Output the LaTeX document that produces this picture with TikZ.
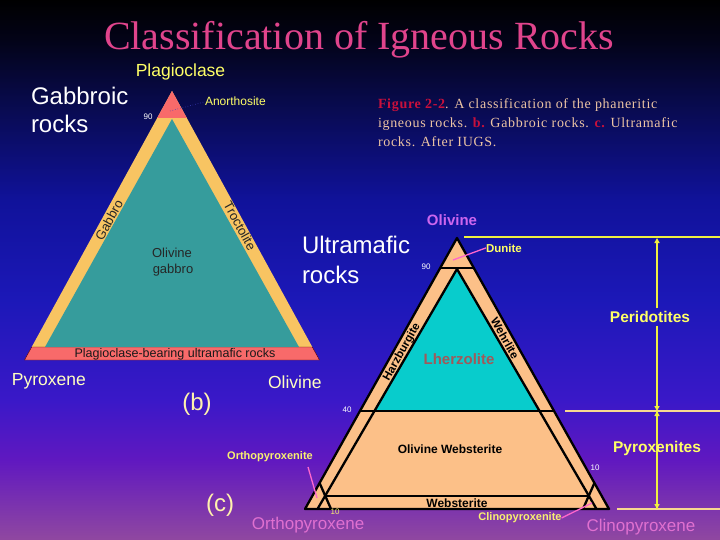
\documentclass[tikz,border=0pt]{standalone}
\usepackage{fontspec}
\setmainfont{Liberation Sans}
\newfontfamily\titlefont{Liberation Serif}
\newfontfamily\capfont[LetterSpace=5]{Liberation Serif}
\usetikzlibrary{arrows.meta}
\definecolor{bgA}{HTML}{000000}
\definecolor{bgB}{HTML}{030318}
\definecolor{bgC}{HTML}{080A4A}
\definecolor{bgD}{HTML}{10129A}
\definecolor{bgE}{HTML}{1C18B8}
\definecolor{bgF}{HTML}{3A18C8}
\definecolor{bgG}{HTML}{6018C0}
\definecolor{bgH}{HTML}{9048A0}
\definecolor{titlepink}{HTML}{E0448C}
\definecolor{captext}{HTML}{ECC4A4}
\definecolor{figred}{HTML}{C8103C}
\definecolor{plagyel}{HTML}{FFFF66}
\definecolor{cream}{HTML}{FFFFC0}
\definecolor{violetlbl}{HTML}{CC66EE}
\definecolor{pinklbl}{HTML}{E070D0}
\definecolor{pinkline}{HTML}{FF66CC}
\definecolor{lblyel}{HTML}{F8F070}
\definecolor{arrowyel}{HTML}{F0F040}
\definecolor{paleyel}{HTML}{F8D890}
\definecolor{lorange}{HTML}{F8C462}
\definecolor{lteal}{HTML}{369C9C}
\definecolor{lred}{HTML}{F86A6A}
\definecolor{rorange}{HTML}{FCC088}
\definecolor{rteal}{HTML}{08CCCC}
\definecolor{lherz}{HTML}{A05A5A}
\pgfdeclareverticalshading{bgshade}{100bp}{color(0bp)=(bgH); color(25bp)=(bgH); color(32.41bp)=(bgG); color(37.96bp)=(bgF); color(47.22bp)=(bgE); color(56.48bp)=(bgD); color(65.74bp)=(bgC); color(71.30bp)=(bgB); color(75bp)=(bgA); color(100bp)=(bgA)}
\newcommand\fsz[1]{\fontsize{#1}{#1}\selectfont}
\begin{document}
\begin{tikzpicture}[x=1pt,y=-1pt,
  lbl/.style={inner sep=0pt, outer sep=0pt},
  bline/.style={black, line width=2.3pt, line cap=round, line join=round},
  leader/.style={pinkline, line width=1.3pt},
  yarrow/.style={arrowyel, line width=1.4pt},
  tipA/.style={-{Triangle[length=5pt,width=5pt]}},
  hline/.style={paleyel, line width=1.6pt}]
\useasboundingbox (0,0) rectangle (720,540);
\shade[shading=bgshade] (0,0) rectangle (720,540);

% title
\node[lbl, anchor=base, text=titlepink] (title) at (359,50) {\titlefont\fsz{40}Classification of Igneous Rocks};

% caption
\node[lbl, anchor=base west, text=captext] (cap1) at (378,109) {\capfont\fsz{14}{\color{figred}\bfseries Figure 2-2}. A classification of the phaneritic};
\node[lbl, anchor=base west, text=captext] (cap2) at (378,128) {\capfont\fsz{14}igneous rocks. {\color{figred}\bfseries b.} Gabbroic rocks. {\color{figred}\bfseries c.} Ultramafic};
\node[lbl, anchor=base west, text=captext] (cap3) at (378,147) {\capfont\fsz{14}rocks. After IUGS.};

% ---------- left triangle (b) ----------
\fill[lorange] (172,91) -- (31.7,347) -- (312.3,347) -- cycle;
\fill[lred] (172,91) -- (157.2,118) -- (186.8,118) -- cycle;
\fill[lred, draw=red!35!black, line width=0.4pt] (31.7,347) -- (312.3,347) -- (319.5,360) -- (24.5,360) -- cycle;
\fill[lteal] (172,119) -- (45,347) -- (299,347) -- cycle;
\coordinate (anoA) at (170,111);
\node[lbl, anchor=base west, text=plagyel] (anorth) at (205,106) {\fsz{12}Anorthosite};
\draw[blue!50!gray, line width=0.6pt, dotted] (anoA) -- (anorth.west);
\node[lbl, anchor=base, text=plagyel] (plag) at (180.5,77) {\fsz{17.5}Plagioclase};
\node[lbl, text=white] (n90b) at (148,117) {\fsz{8}90};
\node[lbl, anchor=base west, text=white] (gab1) at (31,105) {\fsz{24}Gabbroic};
\node[lbl, anchor=base west, text=white] (gab2) at (31,133) {\fsz{24}rocks};
\node[lbl, rotate=61.3, text=black!85] (gabbro) at (109,220) {\fsz{13}Gabbro};
\node[lbl, rotate=-61.3, text=black!85] (troct) at (240,226) {\fsz{13}Troctolite};
\node[lbl, anchor=base, text=black!85] (olg1) at (172,257) {\fsz{13}Olivine};
\node[lbl, anchor=base, text=black!85] (olg2) at (173,273) {\fsz{13}gabbro};
\node[lbl, text=black!90] (pbur) at (175,354) {\fsz{12.5}Plagioclase-bearing ultramafic rocks};
\node[lbl, anchor=base west, text=cream] (pyx) at (12,385) {\fsz{17.5}Pyroxene};
\node[lbl, anchor=base west, text=cream] (olb) at (268,388) {\fsz{17.5}Olivine};
\node[lbl, text=cream!90!orange] (blab) at (197,404) {\fsz{24}(b)};

% ---------- right triangle (c) ----------
\fill[rorange] (457,238) -- (305,509) -- (609,509) -- cycle;
\fill[rteal] (457,269) -- (375,411) -- (539,411) -- cycle;
\draw[bline] (440.2,268) -- (473.8,268);
\draw[bline] (457,269) -- (317.5,509);
\draw[bline] (457,269) -- (596.5,509);
\draw[bline] (360,411) -- (554,411);
\draw[bline] (325,496) -- (589,496);
\draw[bline] (319.6,483) -- (331,509);
\draw[bline] (594.4,483) -- (583,509);
\draw[bline] (457,238) -- (305,509) -- (609,509) -- cycle;

\node[lbl, text=violetlbl] (olc) at (452,220) {\fsz{15}\bfseries Olivine};
\node[lbl, anchor=base west, text=white] (ult1) at (302,254) {\fsz{24}Ultramafic};
\node[lbl, anchor=base west, text=white] (ult2) at (302,283) {\fsz{24}rocks};
\node[lbl, anchor=base west, text=plagyel] (dunite) at (486,252) {\fsz{11.5}\bfseries Dunite};
\coordinate (dunA) at (453,260);
\draw[leader] (dunA) -- (dunite.west);
\node[lbl, text=white] (n90c) at (426,267) {\fsz{8}90};
\node[lbl, text=white] (n40) at (347,410) {\fsz{8}40};
\node[lbl, text=lblyel] (n10a) at (335,512) {\fsz{8}10};
\node[lbl, text=white] (n10b) at (595,468) {\fsz{8}10};
\node[lbl, rotate=60.7] (harz) at (402,352) {\fsz{11.5}\bfseries Harzburgite};
\node[lbl, rotate=-60.7] (wehr) at (505,338) {\fsz{11.5}\bfseries Wehrlite};
\node[lbl, text=lherz] (lherzl) at (459,359) {\fsz{15}\bfseries Lherzolite};
\node[lbl, text=black] (olweb) at (450,449) {\fsz{12}\bfseries Olivine Websterite};
\node[lbl, anchor=base, text=black] (webst) at (457,507) {\fsz{12}\bfseries Websterite};
\node[lbl, text=lblyel] (opxite) at (270,457) {\fsz{11}\bfseries Orthopyroxenite};
\coordinate (opxA) at (308,467);
\coordinate (opxB) at (317,498);
\draw[leader] (opxA) -- (opxB);
\node[lbl, text=lblyel] (cpxite) at (520,518) {\fsz{11}\bfseries Clinopyroxenite};
\coordinate (cpxB) at (592,503);
\draw[leader] (cpxite.east) -- (cpxB);
\node[lbl, text=pinklbl] (opx) at (308,525) {\fsz{17}Orthopyroxene};
\node[lbl, text=pinklbl] (cpx) at (641,527) {\fsz{17}Clinopyroxene};
\node[lbl, text=cream!90!orange] (clab) at (220,505) {\fsz{24}(c)};

% ---------- right scale ----------
\coordinate (hTopL) at (464,237);
\coordinate (hTopR) at (720,237);
\coordinate (hMidL) at (565,411);
\coordinate (hMidR) at (720,411);
\coordinate (hBotL) at (617,509);
\coordinate (hBotR) at (720,509);
\coordinate (pTop) at (657,238);
\coordinate (pMid) at (657,411);
\coordinate (pBot) at (657,509);
\draw[arrowyel, line width=1.6pt] (hTopL) -- (hTopR);
\draw[hline] (hMidL) -- (hMidR);
\draw[hline] (hBotL) -- (hBotR);
\node[lbl, text=plagyel] (peri) at (650,317) {\fsz{15.5}\bfseries Peridotites};
\draw[yarrow, tipA] (pTop |- peri.north) ++(0,-3) -- (pTop);
\draw[yarrow, tipA] (pTop |- peri.south) ++(0,3) -- (pMid);
\draw[yarrow, tipA] (pBot) -- (pMid);
\draw[yarrow, tipA] (pMid) -- (pBot);
\node[lbl, text=plagyel] (pyxite) at (657,448) {\fsz{15.5}\bfseries Pyroxenites};
\end{tikzpicture}
\end{document}
